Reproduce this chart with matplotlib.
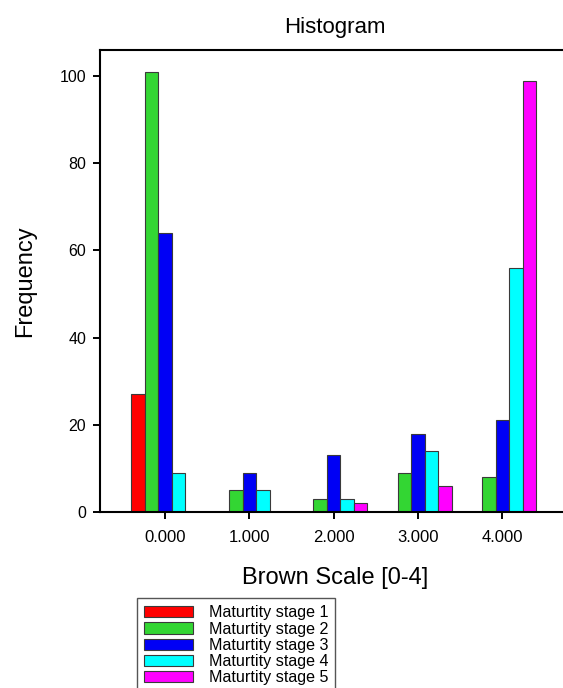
import numpy as np
import matplotlib.pyplot as plt

plt.rcParams['font.family'] = ['Liberation Sans', 'DejaVu Sans']

# brown scale classes and counts for each maturity stage
scale = [0, 1, 2, 3, 4]
stage_labels = ['Maturtity stage 1', 'Maturtity stage 2', 'Maturtity stage 3',
                'Maturtity stage 4', 'Maturtity stage 5']
stage1 = [27, 0, 0, 0, 0]
stage2 = [101, 5, 3, 9, 8]
stage3 = [64, 9, 13, 18, 21]
stage4 = [9, 5, 3, 14, 56]
stage5 = [0, 0, 2, 6, 99]
colors = ['#ff0000', '#33d633', '#0000f5', '#00ffff', '#ff00ff']

W, H = 563, 688
fig = plt.figure(figsize=(W / 100, H / 100), dpi=100)
# axes run past the right edge of the figure
ax = fig.add_axes([100 / W, 1 - 512 / H, 470 / W, 462 / H])

x = np.array(scale, dtype=float)
bw = 0.16
series = [stage1, stage2, stage3, stage4, stage5]
handles = []
for i, (vals, c, lab) in enumerate(zip(series, colors, stage_labels)):
    h = ax.bar(x + (i - 2) * bw, vals, width=bw, color=c, edgecolor='#3a3a3a',
               linewidth=0.8, label=lab)
    handles.append(h)

ax.set_xlim(-0.77, 4.8)
ax.set_ylim(0, 106)
ax.set_xticks(scale)
ax.set_xticklabels([f'{v:.3f}' for v in scale])
ax.set_yticks([0, 20, 40, 60, 80, 100])
ax.tick_params(direction='out', length=5, width=1.4, labelsize=11.5, pad=5)
ax.tick_params(axis='x', labelsize=12, pad=8)
for s in ax.spines.values():
    s.set_linewidth(1.5)

ax.set_title('Histogram', fontsize=16, pad=12)
ax.set_xlabel('Brown Scale [0-4]', fontsize=17, labelpad=16)
ax.set_ylabel('Frequency', fontsize=17, labelpad=17)

fig.legend(handles=handles, loc='upper left', bbox_to_anchor=(137 / W, 1 - 598 / H),
           borderaxespad=0, fontsize=11.6, frameon=True, fancybox=False,
           edgecolor='#555555', framealpha=1, handlelength=3.0, handleheight=0.7,
           handletextpad=1.0, labelspacing=0.08, borderpad=0.45)

fig.savefig('out.png', dpi=100)
